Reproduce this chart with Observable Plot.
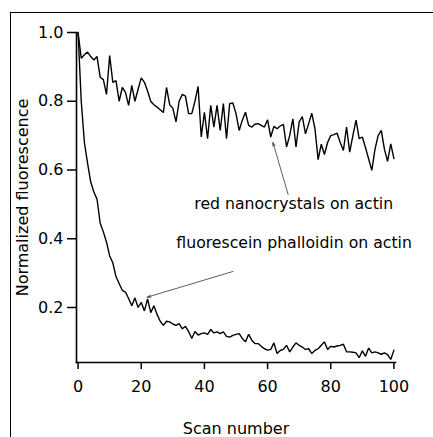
<!DOCTYPE html>
<html>
<head>
<meta charset="utf-8">
<script src="https://cdn.jsdelivr.net/npm/d3@7"></script>
<script src="https://cdn.jsdelivr.net/npm/@observablehq/plot@0.6"></script>
<style>
  html, body { margin: 0; padding: 0; background: #fff; }
  #wrap { position: relative; width: 433px; height: 437px; overflow: hidden; }
  #border { position: absolute; left: 10px; top: 12px; width: 430px; height: 430px;
            border-top: 1.5px solid #000; border-left: 1.5px solid #000; }
  #wrap svg { position: absolute; left: 0; top: 0; }
</style>
</head>
<body>
<div id="wrap"><div id="border"></div></div>
<script>
// Normalized fluorescence per scan (scan number = array index, 0..100)
const redNanocrystals = [
  1.0, 0.925, 0.935, 0.943, 0.93, 0.92, 0.93, 0.87, 0.863, 0.82,
  0.933, 0.855, 0.86, 0.80, 0.84, 0.826, 0.788, 0.846, 0.80, 0.835,
  0.868, 0.855, 0.83, 0.80, 0.79, 0.783, 0.775, 0.767, 0.84, 0.79,
  0.78, 0.74, 0.80, 0.82, 0.815, 0.764, 0.764, 0.80, 0.843, 0.696,
  0.768, 0.691, 0.788, 0.725, 0.788, 0.715, 0.793, 0.691, 0.793, 0.795,
  0.764, 0.715, 0.745, 0.768, 0.73, 0.725, 0.733, 0.735, 0.73, 0.725,
  0.746, 0.696, 0.727, 0.72, 0.728, 0.733, 0.667, 0.70, 0.749, 0.667,
  0.74, 0.755, 0.705, 0.735, 0.765, 0.72, 0.63, 0.675, 0.645, 0.68,
  0.70, 0.703, 0.707, 0.68, 0.657, 0.725, 0.652, 0.70, 0.745, 0.691,
  0.696, 0.665, 0.632, 0.599, 0.66, 0.70, 0.715, 0.66, 0.625, 0.676,
  0.633
];
const fluoresceinPhalloidin = [
  1.0, 0.80, 0.68, 0.62, 0.565, 0.536, 0.515, 0.445, 0.42, 0.39,
  0.35, 0.33, 0.29, 0.27, 0.25, 0.245, 0.226, 0.205, 0.228, 0.20,
  0.215, 0.19, 0.225, 0.185, 0.205, 0.18, 0.16, 0.148, 0.16, 0.158,
  0.152, 0.148, 0.153, 0.138, 0.145, 0.13, 0.11, 0.13, 0.12, 0.124,
  0.126, 0.122, 0.136, 0.126, 0.129, 0.124, 0.129, 0.116, 0.114, 0.119,
  0.122, 0.124, 0.11, 0.10, 0.122, 0.105, 0.095, 0.095, 0.087, 0.08,
  0.076, 0.078, 0.097, 0.066, 0.075, 0.078, 0.09, 0.071, 0.085, 0.097,
  0.09, 0.085, 0.078, 0.08, 0.066, 0.075, 0.08, 0.09, 0.10, 0.078,
  0.087, 0.085, 0.088, 0.09, 0.093, 0.071, 0.071, 0.07, 0.068, 0.054,
  0.074, 0.058, 0.082, 0.068, 0.071, 0.068, 0.064, 0.068, 0.063, 0.049,
  0.076
];
const xTicks = [0, 20, 40, 60, 80, 100];
const yTicks = [0.2, 0.4, 0.6, 0.8, 1.0];

// Annotations (label anchor, arrow start and arrow tip in data units)
const labelText = ["red nanocrystals on actin", "fluorescein phalloidin on actin"];
const labelX = [36.8, 31.1];
const labelY = [0.50, 0.387];
const arrowX1 = [66.5, 49.1];
const arrowY1 = [0.529, 0.305];
const arrowX2 = [61.7, 21.9];
const arrowY2 = [0.68, 0.23];

const labels = labelText.map((t, i) => ({t, x: labelX[i], y: labelY[i]}));
const arrows = arrowX1.map((x1, i) => ({x1, y1: arrowY1[i], x2: arrowX2[i], y2: arrowY2[i]}));

const chart = Plot.plot({
  width: 433,
  height: 437,
  marginLeft: 76,
  marginRight: 38,
  marginTop: 32,
  marginBottom: 75,
  style: {fontFamily: "'DejaVu Sans', sans-serif", fontSize: "16px", background: "transparent", color: "#000"},
  x: {domain: [-0.5, 100.5]},
  y: {domain: [0.04, 1.0]},
  marks: [
    Plot.frame({anchor: "left", stroke: "#000", strokeWidth: 1.6}),
    Plot.frame({anchor: "bottom", stroke: "#000", strokeWidth: 1.6}),
    Plot.axisX({ticks: xTicks, tickSize: 7, tickPadding: 11, strokeWidth: 1.5,
      label: "Scan number", labelAnchor: "center", labelArrow: "none", labelOffset: 71}),
    Plot.axisY({ticks: yTicks, tickFormat: d3.format(".1f"), tickSize: 9, tickPadding: 4, strokeWidth: 1.5,
      label: "Normalized fluorescence", labelAnchor: "center", labelArrow: "none", labelOffset: 60}),
    Plot.lineY(redNanocrystals, {stroke: "#000", strokeWidth: 1.4, strokeLinejoin: "miter"}),
    Plot.lineY(fluoresceinPhalloidin, {stroke: "#000", strokeWidth: 1.4, strokeLinejoin: "miter"}),
    Plot.arrow(arrows, {x1: "x1", y1: "y1", x2: "x2", y2: "y2", stroke: "#333", strokeWidth: 0.8, headLength: 7, headAngle: 35}),
    Plot.text(labels, {x: "x", y: "y", text: "t", textAnchor: "start", fontSize: 15.7, fill: "#000"})
  ]
});
document.getElementById("wrap").appendChild(chart);
</script>
</body>
</html>
